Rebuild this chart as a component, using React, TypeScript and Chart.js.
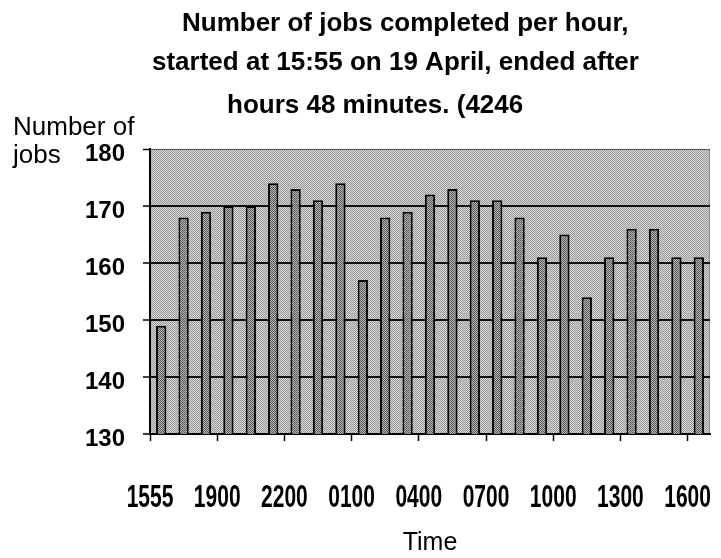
import React, { useEffect, useRef } from 'react';
import { Chart, registerables } from 'chart.js';

Chart.register(...registerables);

const hours = ['1555', '1700', '1800', '1900', '2000', '2100', '2200', '2300', '0000', '0100', '0200', '0300', '0400', '0500', '0600', '0700', '0800', '0900', '1000', '1100', '1200', '1300', '1400', '1500', '1600'];
const jobsPerHour = [149, 168, 169, 170, 170, 174, 173, 171, 174, 157, 168, 169, 172, 173, 171, 171, 168, 161, 165, 154, 161, 166, 166, 161, 161];
const titleLines = ['Number of jobs completed per hour,', 'started at 15:55 on 19 April, ended after', 'hours 48 minutes. (4246'];
const yTitleLines = ['Number of', 'jobs'];
const xTitle = 'Time';
const yMin = 130;
const yMax = 180;
const yStep = 10;
const labelEvery = 3;

const FONT = "'Liberation Sans', Arial, sans-serif";

function makePattern(ctx: CanvasRenderingContext2D, light: string, dark: string) {
  const c = document.createElement('canvas');
  c.width = 2;
  c.height = 2;
  const g = c.getContext('2d')!;
  g.fillStyle = light;
  g.fillRect(0, 0, 2, 2);
  g.fillStyle = dark;
  g.fillRect(0, 0, 1, 1);
  g.fillRect(1, 1, 1, 1);
  return ctx.createPattern(c, 'repeat')!;
}

export default function App() {
  const ref = useRef<HTMLCanvasElement>(null);

  useEffect(() => {
    const canvas = ref.current!;
    const ctx = canvas.getContext('2d')!;
    const bgPattern = makePattern(ctx, '#d6d6d6', '#9a9a9a');
    const barPattern = makePattern(ctx, '#b0b0b0', '#5e5e5e');

    const decor = {
      id: 'decor',
      beforeDraw(chart: any) {
        const { ctx: c, chartArea: a } = chart;
        c.save();
        c.fillStyle = bgPattern;
        c.fillRect(a.left, a.top, a.right - a.left, a.bottom - a.top);
        c.strokeStyle = '#8a8a8a';
        c.lineWidth = 1;
        c.beginPath();
        c.moveTo(a.right - 0.5, a.top);
        c.lineTo(a.right - 0.5, a.bottom);
        c.stroke();
        c.restore();
      },
      afterDraw(chart: any) {
        const c = chart.ctx as CanvasRenderingContext2D;
        c.save();
        c.fillStyle = '#000';
        c.textBaseline = 'alphabetic';
        // chart title
        c.textAlign = 'left';
        c.font = `bold 26px ${FONT}`;
        const titleX = [182, 152, 227];
        const titleY = [31, 70, 113];
        titleLines.forEach((t, i) => c.fillText(t, titleX[i], titleY[i]));
        // y axis title
        c.font = `26px ${FONT}`;
        const yTitleY = [135, 163];
        yTitleLines.forEach((t, i) => c.fillText(t, 13, yTitleY[i]));
        // x tick labels (tall, condensed look), placed at the group tick marks
        const sx = chart.scales.x;
        const half = (sx.getPixelForTick(1) - sx.getPixelForTick(0)) / 2;
        c.textAlign = 'center';
        c.font = `bold 21px ${FONT}`;
        hours.forEach((h, i) => {
          if (i % labelEvery !== 0) return;
          const x = sx.getPixelForTick(i) - half;
          c.save();
          c.translate(x, 507);
          c.scale(1, 1.45);
          c.fillText(h, 0, 0);
          c.restore();
        });
        c.restore();
      },
    };

    const chart = new Chart(canvas, {
      type: 'bar',
      data: {
        labels: hours,
        datasets: [
          {
            data: jobsPerHour,
            backgroundColor: barPattern as any,
            borderColor: '#000',
            borderWidth: 2,
            borderSkipped: 'bottom',
            barPercentage: 0.46,
            categoryPercentage: 1,
          },
        ],
      },
      plugins: [decor],
      options: {
        animation: false,
        responsive: false,
        layout: { padding: { top: 149, right: 11, left: 0, bottom: 0 } },
        plugins: {
          legend: { display: false },
          title: { display: false },
          tooltip: { enabled: false },
        },
        scales: {
          x: {
            offset: true,
            afterFit: (s: any) => {
              s.height = 124;
              s.paddingLeft = 0;
              s.paddingRight = 0;
            },
            border: { display: true, color: '#000', width: 2 },
            grid: {
              offset: true,
              drawOnChartArea: false,
              drawTicks: true,
              tickLength: 7,
              tickWidth: 1.5,
              tickColor: (c: any) => (typeof c.index === 'number' && c.index % labelEvery === 0 ? '#000' : 'rgba(0,0,0,0)'),
            },
            ticks: {
              display: false,
              autoSkip: false,
              maxRotation: 0,
              minRotation: 0,
            },
            title: {
              display: true,
              text: xTitle,
              color: '#000',
              font: { family: FONT, size: 25 },
              padding: { top: 0, bottom: 0 },
            },
          },
          y: {
            min: yMin,
            max: yMax,
            afterFit: (s: any) => {
              s.width = 150;
            },
            border: { display: true, color: '#000', width: 2 },
            grid: {
              color: (c: any) => (c.tick && c.tick.value === yMax ? '#555' : '#111'),
              lineWidth: (c: any) => (c.tick && c.tick.value === yMax ? 1 : 2),
              drawTicks: true,
              tickLength: 7,
              tickColor: '#000',
              tickWidth: 1.5,
            },
            ticks: {
              stepSize: yStep,
              padding: 18,
              labelOffset: 5,
              color: '#000',
              font: { family: FONT, size: 24, weight: 'bold' },
            },
          },
        },
      },
    });
    return () => chart.destroy();
  }, []);

  return (
    <div style={{ position: 'absolute', left: 0, top: 0, width: 721, height: 558, background: '#fff' }}>
      <canvas ref={ref} width={721} height={558} style={{ display: 'block', width: 721, height: 558 }} />
    </div>
  );
}
